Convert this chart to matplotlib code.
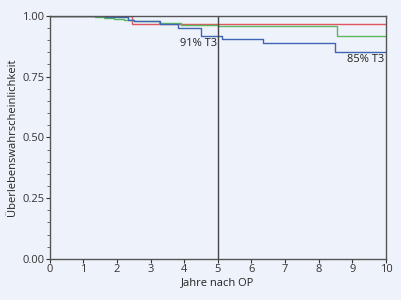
import matplotlib.pyplot as plt
from matplotlib.ticker import MultipleLocator, FormatStrFormatter

# step data (Jahre, Ueberlebenswahrscheinlichkeit)
red_t = [0, 1.0, 2.44, 10]
red_s = [1.0, 1.0, 0.966, 0.966]

green_t = [0, 1.34, 1.6, 1.9, 2.2, 2.5, 3.25, 3.9, 5.0, 8.54, 10]
green_s = [1.0, 0.997, 0.993, 0.988, 0.983, 0.977, 0.970, 0.961, 0.959, 0.918, 0.918]

blue_t = [0, 1.64, 2.33, 2.5, 3.27, 3.8, 4.51, 5.11, 6.33, 8.48, 10]
blue_s = [1.0, 0.997, 0.984, 0.977, 0.966, 0.952, 0.919, 0.904, 0.887, 0.852, 0.852]

bg = '#eef2fa'
plt.rcParams['font.family'] = ['Open Sans', 'DejaVu Sans']
fig = plt.figure(figsize=(4.02, 3.0), dpi=100, facecolor=bg)
ax = fig.add_axes([0.124, 0.137, 0.836, 0.81])
ax.set_facecolor(bg)

ax.step(red_t, red_s, where='post', color='#e05560', lw=1)
ax.step(green_t, green_s, where='post', color='#5cb85c', lw=1)
ax.step(blue_t, blue_s, where='post', color='#3d66b3', lw=1)

ax.axvline(5, color='#444444', lw=1)
ax.text(4.98, 0.885, '91% T3', ha='right', va='center', fontsize=8, color='#222222')
ax.text(9.95, 0.822, '85% T3', ha='right', va='center', fontsize=8, color='#222222')

ax.set_xlim(0, 10)
ax.set_ylim(0, 1)
ax.xaxis.set_major_locator(MultipleLocator(1))
ax.yaxis.set_major_locator(MultipleLocator(0.25))
ax.yaxis.set_minor_locator(MultipleLocator(0.05))
ax.yaxis.set_major_formatter(FormatStrFormatter('%.2f'))
ax.tick_params(labelsize=8, colors='#333333', length=3, width=0.8, pad=1)
ax.tick_params(which='minor', length=2, width=0.6, colors='#555555')
for s in ax.spines.values():
    s.set_color('#555555')
    s.set_linewidth(1)
ax.set_xlabel('Jahre nach OP', fontsize=8, color='#222222', labelpad=1)
ax.set_ylabel('Überlebenswahrscheinlichkeit', fontsize=8, color='#222222', labelpad=3)

fig.savefig('out.png', dpi=100, facecolor=bg)
